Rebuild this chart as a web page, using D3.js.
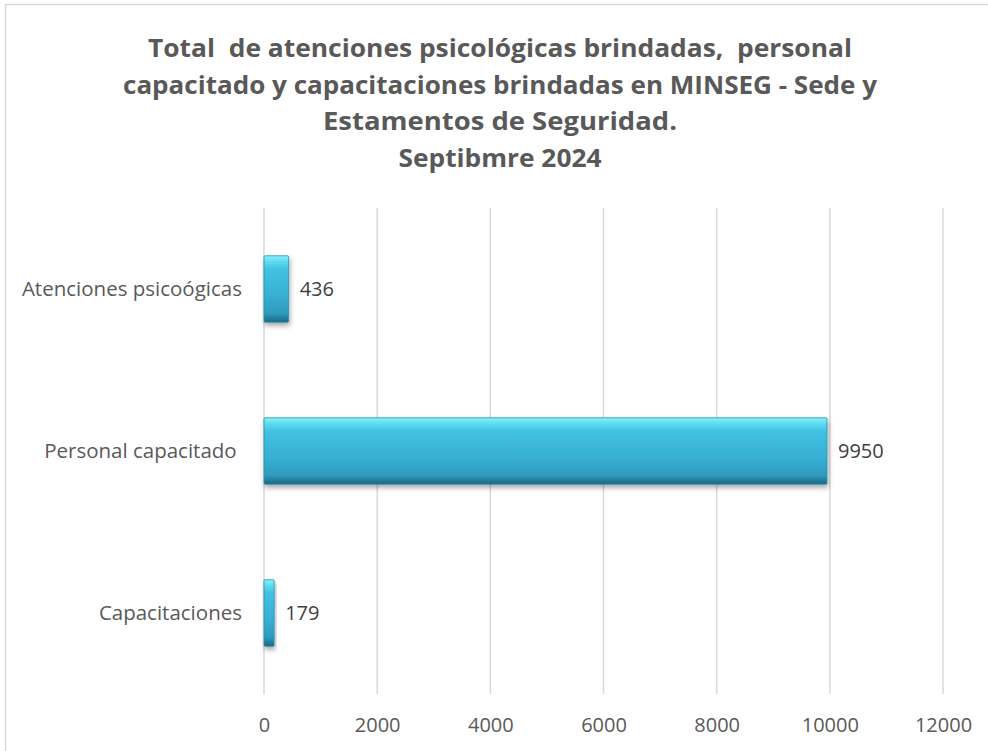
<!DOCTYPE html>
<html>
<head>
<meta charset="utf-8">
<script src="https://cdn.jsdelivr.net/npm/d3@7"></script>
<style>
  body { margin: 0; background: #fff; }
  svg { display: block; }
</style>
</head>
<body>
<div id="plot"></div>
<script>
const categories = ["Atenciones psicoógicas", "Personal capacitado ", "Capacitaciones"];
const values = [436, 9950, 179];
const xTicks = [0, 2000, 4000, 6000, 8000, 10000, 12000];
const titleLines = [
  "Total  de atenciones psicológicas brindadas,  personal",
  "capacitado y capacitaciones brindadas en MINSEG - Sede y",
  "Estamentos de Seguridad.",
  "Septibmre 2024"
];
const titleWidths = [704, 754, 354, 203];

const w = 988;
const h = 751;
const plotLeft = 264, plotRight = 943, plotTop = 208, plotBottom = 694;
const font = "'Open Sans', 'Noto Sans', sans-serif";

const svg = d3.select("#plot").append("svg")
  .attr("width", w)
  .attr("height", h);

const defs = svg.append("defs");
const grad = defs.append("linearGradient")
  .attr("id", "barGrad")
  .attr("x1", 0).attr("y1", 0).attr("x2", 0).attr("y2", 1);
[[0, "#86f3fb"], [0.09, "#5cdcf0"], [0.2, "#42c2e2"], [0.6, "#37afd3"], [0.87, "#2e9abd"], [1, "#1c6580"]]
  .forEach(s => grad.append("stop").attr("offset", s[0]).attr("stop-color", s[1]));

const shadow = defs.append("filter").attr("id", "shadow")
  .attr("x", "-10%").attr("y", "-20%").attr("width", "130%").attr("height", "160%");
shadow.append("feDropShadow")
  .attr("dx", 1).attr("dy", 3).attr("stdDeviation", 2.5)
  .attr("flood-color", "#000").attr("flood-opacity", 0.35);

// chart frame (right and bottom edges fall outside the picture)
svg.append("rect")
  .attr("x", 5.5).attr("y", 4.5)
  .attr("width", w + 20).attr("height", h + 20)
  .attr("fill", "none")
  .attr("stroke", "#d9d9d9")
  .attr("stroke-width", 1.5);

const xScale = d3.scaleLinear()
  .domain([0, 12000])
  .range([plotLeft, plotRight]);

const yScale = d3.scaleBand()
  .domain(categories)
  .range([plotTop, plotBottom])
  .paddingInner(0.59)
  .paddingOuter(0.295);

// gridlines
svg.append("g")
  .selectAll("line")
  .data(xTicks)
  .enter()
  .append("line")
  .attr("x1", d => xScale(d)).attr("x2", d => xScale(d))
  .attr("y1", plotTop).attr("y2", plotBottom)
  .attr("stroke", "#d9d9d9")
  .attr("stroke-width", 1.5);

// x axis labels
const xAxis = d3.axisBottom(xScale)
  .tickValues(xTicks)
  .tickFormat(d3.format("d"))
  .tickSize(0)
  .tickPadding(24);
const gx = svg.append("g")
  .attr("transform", "translate(0," + plotBottom + ")")
  .call(xAxis);
gx.select(".domain").remove();
gx.selectAll("text")
  .attr("font-family", font)
  .attr("font-size", 20)
  .attr("fill", "#595959");

// y axis labels
const yAxis = d3.axisLeft(yScale).tickSize(0).tickPadding(22);
const gy = svg.append("g")
  .attr("transform", "translate(" + plotLeft + ",0)")
  .call(yAxis);
gy.select(".domain").remove();
gy.selectAll("text")
  .attr("xml:space", "preserve")
  .style("white-space", "pre")
  .attr("font-family", font)
  .attr("font-size", 20.5)
  .attr("fill", "#595959");

// bars
svg.append("g")
  .selectAll("rect")
  .data(values)
  .enter()
  .append("rect")
  .attr("x", xScale(0))
  .attr("y", (d, i) => yScale(categories[i]))
  .attr("width", d => xScale(d) - xScale(0))
  .attr("height", yScale.bandwidth())
  .attr("rx", 1)
  .attr("fill", "url(#barGrad)")
  .attr("stroke", "#2a8fae")
  .attr("stroke-width", 0.8)
  .attr("filter", "url(#shadow)");

// value labels
svg.append("g")
  .selectAll("text")
  .data(values)
  .enter()
  .append("text")
  .attr("x", d => xScale(d) + 11)
  .attr("y", (d, i) => yScale(categories[i]) + yScale.bandwidth() / 2)
  .attr("dy", "0.35em")
  .attr("font-family", font)
  .attr("font-size", 20)
  .attr("fill", "#404040")
  .text(d => d);

// title
svg.append("g")
  .selectAll("text")
  .data(titleLines)
  .enter()
  .append("text")
  .attr("x", 500)
  .attr("y", (d, i) => 57 + i * 36.5)
  .attr("text-anchor", "middle")
  .attr("xml:space", "preserve")
  .style("white-space", "pre")
  .attr("font-family", font)
  .attr("font-weight", "bold")
  .attr("font-size", 25)
  .attr("fill", "#595959")
  .attr("textLength", (d, i) => titleWidths[i])
  .attr("lengthAdjust", "spacingAndGlyphs")
  .text(d => d);
</script>
</body>
</html>
